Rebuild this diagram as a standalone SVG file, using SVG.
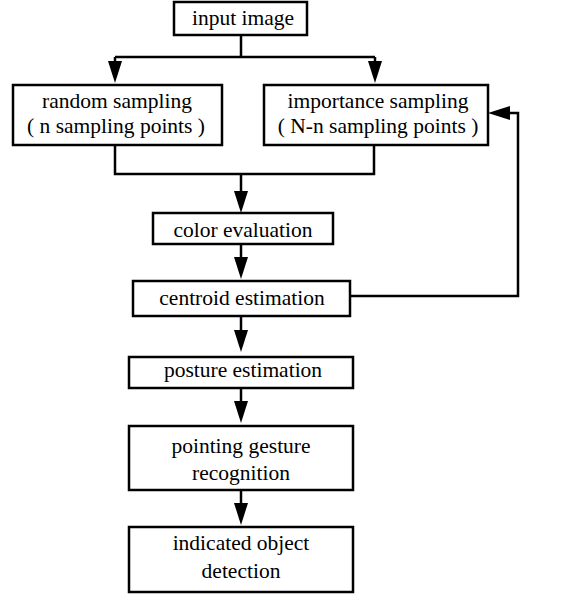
<svg xmlns="http://www.w3.org/2000/svg" width="574" height="594" viewBox="0 0 574 594">
<style>
.box{fill:#fff;stroke:#000;stroke-width:2.5}
.t{font-family:"Liberation Serif","Times New Roman",serif;font-size:21.5px;fill:#000;text-anchor:middle}
.c{fill:none;stroke:#000;stroke-width:2.5}
</style>
<defs>
<marker id="ah" viewBox="0 0 22 14" refX="12" refY="7" markerWidth="22" markerHeight="14" markerUnits="userSpaceOnUse" orient="auto">
<polygon points="0,0 22,7 0,14" fill="#000"/>
</marker>
</defs>
<rect width="574" height="594" fill="#fff"/>
<g id="connectors">
<path class="c" d="M241,35 V57"/>
<path class="c" d="M115,57 H375"/>
<path class="c" d="M115,57 V73" marker-end="url(#ah)"/>
<path class="c" d="M375,57 V73" marker-end="url(#ah)"/>
<path class="c" d="M115,145 V174 H374 V145"/>
<path class="c" d="M241,174 V203" marker-end="url(#ah)"/>
<path class="c" d="M241,244 V269" marker-end="url(#ah)"/>
<path class="c" d="M350,296 H518 V113 H498" marker-end="url(#ah)"/>
<path class="c" d="M241,316 V342" marker-end="url(#ah)"/>
<path class="c" d="M241,388 V413" marker-end="url(#ah)"/>
<path class="c" d="M241,490 V515" marker-end="url(#ah)"/>
</g>
<g id="input-image">
<rect class="box" x="174" y="2" width="133" height="33"/>
<text class="t" x="243" y="25">input image</text>
</g>
<g id="random-sampling">
<rect class="box" x="13" y="85" width="209" height="60"/>
<text class="t" x="117" y="108">random sampling</text>
<text class="t" x="116" y="133">( n sampling points )</text>
</g>
<g id="importance-sampling">
<rect class="box" x="264" y="85" width="224" height="60"/>
<text class="t" x="378" y="108">importance sampling</text>
<text class="t" x="378" y="133">( N-n sampling points )</text>
</g>
<g id="color-evaluation">
<rect class="box" x="153" y="213" width="180" height="31"/>
<text class="t" x="243" y="237">color evaluation</text>
</g>
<g id="centroid-estimation">
<rect class="box" x="133" y="281" width="217" height="35"/>
<text class="t" x="242" y="305">centroid estimation</text>
</g>
<g id="posture-estimation">
<rect class="box" x="129" y="357" width="224" height="31"/>
<text class="t" x="243" y="377">posture estimation</text>
</g>
<g id="pointing-gesture-recognition">
<rect class="box" x="129" y="426" width="224" height="64"/>
<text class="t" x="241" y="453">pointing gesture</text>
<text class="t" x="241" y="480">recognition</text>
</g>
<g id="indicated-object-detection">
<rect class="box" x="129" y="527" width="224" height="65"/>
<text class="t" x="241" y="550">indicated object</text>
<text class="t" x="241" y="578">detection</text>
</g>
</svg>
